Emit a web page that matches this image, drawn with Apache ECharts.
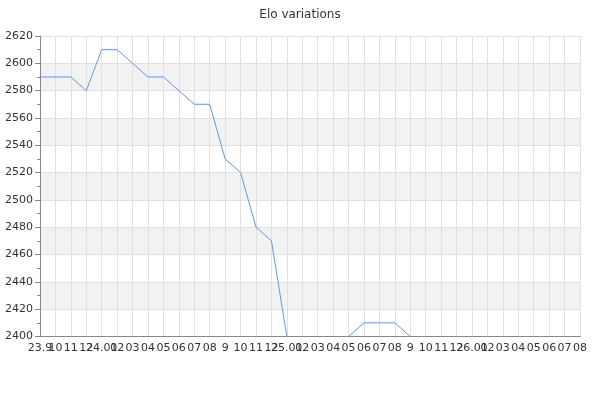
<!DOCTYPE html>
<html>
<head>
<meta charset="utf-8">
<script src="https://cdn.jsdelivr.net/npm/echarts@6/dist/echarts.min.js"></script>
<style>html,body{margin:0;padding:0;background:#fff}#c{width:600px;height:400px}</style>
</head>
<body>
<div id="c"></div>
<script>
const categories = ["23.9","10","11","12","24.01","02","03","04","05","06","07","08","9","10","11","12","25.01","02","03","04","05","06","07","08","9","10","11","12","26.01","02","03","04","05","06","07","08"];
const eloValues = [2590,2590,2590,2580,2610,2610,2600,2590,2590,2580,2570,2570,2530,2520,2480,2470,2400,2400,2400,2400,2400,2410,2410,2410,2400,2400,2400,2400,2400,2400,2400,2400,2400,2400,2400,2400];
const chart = echarts.init(document.getElementById('c'), null, {renderer:'canvas'});
const gridPos = {left:40,right:20,top:36,bottom:63.5,containLabel:false};
chart.setOption({
  animation:false,
  backgroundColor:'#fff',
  title:{text:'Elo variations',left:'center',top:4,textStyle:{fontFamily:'DejaVu Sans',fontSize:12,fontWeight:'normal',color:'#333'}},
  grid:[Object.assign({},gridPos),Object.assign({z:10},gridPos)],
  xAxis:[{type:'category',data:categories,boundaryGap:false,gridIndex:0,
    axisLine:{lineStyle:{color:'#888'}},axisTick:{show:false},
    axisLabel:{interval:0,hideOverlap:false,fontFamily:'DejaVu Sans',fontSize:11,color:'#333',margin:6},
    splitLine:{show:true,lineStyle:{color:'#e0e0e0'}}},
    {type:'category',data:categories,boundaryGap:false,gridIndex:1,z:10,
    axisLine:{show:true,lineStyle:{color:'#888'}},axisTick:{show:false},axisLabel:{show:false},splitLine:{show:false}}],
  yAxis:[{type:'value',min:2400,max:2620,interval:20,gridIndex:0,
    axisLine:{show:true,lineStyle:{color:'#888'}},
    axisTick:{show:true,length:5,lineStyle:{color:'#888'}},
    minorTick:{show:true,splitNumber:2,length:3,lineStyle:{color:'#888'}},
    axisLabel:{fontFamily:'DejaVu Sans',fontSize:11,color:'#333',margin:7,formatter:function(v){return String(v);}},
    splitLine:{show:true,lineStyle:{color:'#e0e0e0'}},
    splitArea:{show:true,areaStyle:{color:['#ffffff','#f2f2f2']}}},
    {type:'value',min:2400,max:2620,interval:20,gridIndex:1,z:10,
    axisLine:{show:false},axisTick:{show:false},axisLabel:{show:false},splitLine:{show:false},splitArea:{show:false}}],
  series:[{type:'line',data:eloValues,xAxisIndex:0,yAxisIndex:0,showSymbol:false,lineStyle:{width:1,color:'#6495ed'},itemStyle:{color:'#6495ed'}}]
});
</script>
</body>
</html>
